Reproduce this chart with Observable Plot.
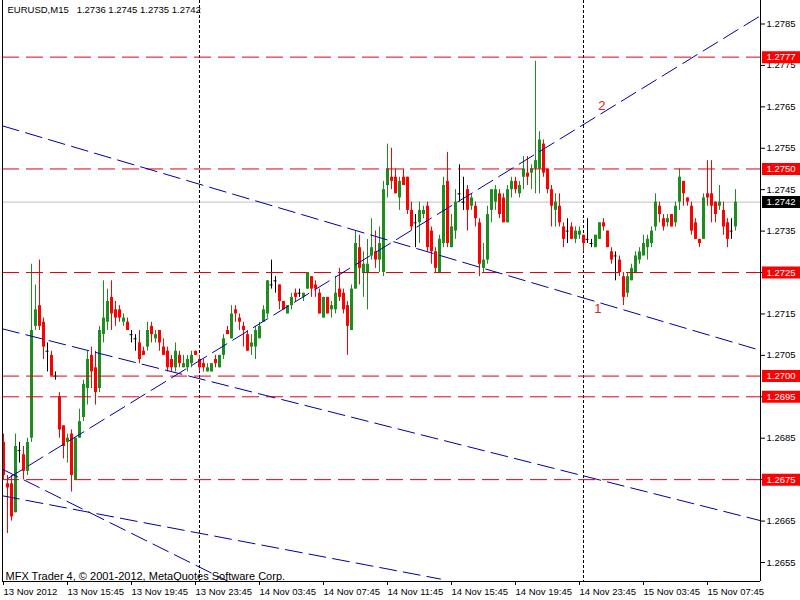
<!DOCTYPE html>
<html><head><meta charset="utf-8">
<script src="https://cdn.jsdelivr.net/npm/d3@7"></script>
<script src="https://cdn.jsdelivr.net/npm/@observablehq/plot@0.6"></script>
<style>html,body{margin:0;padding:0;background:#fff;}</style>
</head><body><div id="chart"></div>
<script>
// EURUSD M15, 15-minute bars starting 13 Nov 2012 11:45 (bar index 0)
const OPEN = [
1.2684,1.2674,1.2674,1.2667,1.2682,1.2681,1.2677,1.2685,1.2712,1.2717,
1.2713,1.2706,1.2705,1.2700,1.2695,1.2688,1.2684,1.2686,1.2675,1.2685,
1.2690,1.2697,1.2705,1.2702,1.2697,1.2710,1.2713,1.2719,1.2716,1.2716,
1.2713,1.2713,1.2710,1.2709,1.2708,1.2706,1.2707,1.2712,1.2709,1.2711,
1.2707,1.2706,1.2704,1.2702,1.2705,1.2702,1.2702,1.2703,1.2706,1.2704,
1.2703,1.2701,1.2701,1.2704,1.2702,1.2705,1.2711,1.2709,1.2716,1.2714,
1.2712,1.2710,1.2707,1.2707,1.2709,1.2713,1.2715,1.2722,1.2723,1.2722,
1.2718,1.2715,1.2717,1.2720,1.2720,1.2719,1.2721,1.2724,1.2722,1.2720,
1.2714,1.2719,1.2716,1.2716,1.2721,1.2720,1.2717,1.2711,1.2721,1.2731,
1.2725,1.2725,1.2729,1.2730,1.2728,1.2725,1.2746,1.2748,1.2748,1.2743,
1.2748,1.2748,1.2740,1.2737,1.2737,1.2739,1.2741,1.2735,1.2730,1.2725,
1.2732,1.2747,1.2731,1.2735,1.2744,1.2742,1.2745,1.2741,1.2741,1.2737,
1.2726,1.2728,1.2740,1.2742,1.2744,1.2743,1.2737,1.2745,1.2747,1.2744,
1.2748,1.2749,1.2749,1.2750,1.2750,1.2756,1.2750,1.2745,1.2740,1.2741,
1.2736,1.2735,1.2736,1.2733,1.2734,1.2734,1.2733,1.2732,1.2731,1.2733,
1.2737,1.2735,1.2730,1.2729,1.2728,1.2724,1.2720,1.2723,1.2725,1.2728,
1.2729,1.2731,1.2732,1.2736,1.2741,1.2738,1.2737,1.2739,1.2737,1.2742,
1.2747,1.2743,1.2741,1.2737,1.2733,1.2733,1.2744,1.2744,1.2742,1.2741,
1.2740,1.2737,1.2735,1.2736];
const HIGH = [
1.2686,1.2676,1.2676,1.2686,1.2684,1.2683,1.2685,1.2727,1.2722,1.2728,
1.2714,1.2708,1.2706,1.2701,1.2696,1.2688,1.2686,1.2687,1.2685,1.2692,
1.2699,1.2706,1.2707,1.2706,1.2712,1.2723,1.2721,1.2723,1.2718,1.2717,
1.2715,1.2714,1.2711,1.2710,1.2711,1.2707,1.2713,1.2713,1.2711,1.2711,
1.2709,1.2707,1.2705,1.2708,1.2706,1.2705,1.2705,1.2706,1.2706,1.2705,
1.2704,1.2703,1.2703,1.2705,1.2705,1.2710,1.2712,1.2717,1.2717,1.2715,
1.2713,1.2711,1.2710,1.2712,1.2713,1.2717,1.2723,1.2728,1.2724,1.2722,
1.2718,1.2717,1.2720,1.2721,1.2721,1.2720,1.2725,1.2724,1.2723,1.2721,
1.2719,1.2719,1.2718,1.2724,1.2726,1.2721,1.2718,1.2722,1.2735,1.2734,
1.2730,1.2733,1.2738,1.2735,1.2736,1.2747,1.2756,1.2755,1.2750,1.2748,
1.2750,1.2748,1.2742,1.2739,1.2742,1.2741,1.2742,1.2736,1.2731,1.2734,
1.2748,1.2754,1.2739,1.2745,1.2751,1.2748,1.2746,1.2744,1.2742,1.2738,
1.2732,1.2741,1.2745,1.2746,1.2745,1.2744,1.2746,1.2748,1.2748,1.2747,
1.2753,1.2753,1.2751,1.2776,1.2759,1.2757,1.2750,1.2746,1.2744,1.2744,
1.2737,1.2738,1.2737,1.2736,1.2736,1.2734,1.2738,1.2733,1.2734,1.2737,
1.2738,1.2735,1.2731,1.2730,1.2729,1.2725,1.2725,1.2727,1.2730,1.2731,
1.2734,1.2734,1.2736,1.2744,1.2742,1.2739,1.2739,1.2739,1.2742,1.2750,
1.2747,1.2743,1.2742,1.2738,1.2733,1.2744,1.2752,1.2752,1.2742,1.2746,
1.2742,1.2738,1.2738,1.2745];
const LOW = [
1.2675,1.2662,1.2665,1.2667,1.2679,1.2675,1.2676,1.2684,1.2711,1.2711,
1.2704,1.2701,1.2700,1.2699,1.2685,1.2680,1.2679,1.2672,1.2675,1.2685,
1.2689,1.2693,1.2697,1.2693,1.2696,1.2708,1.2711,1.2711,1.2712,1.2713,
1.2712,1.2711,1.2708,1.2706,1.2703,1.2705,1.2706,1.2708,1.2708,1.2706,
1.2705,1.2701,1.2701,1.2701,1.2702,1.2702,1.2701,1.2702,1.2705,1.2701,
1.2701,1.2701,1.2701,1.2702,1.2702,1.2704,1.2710,1.2709,1.2713,1.2711,
1.2707,1.2706,1.2705,1.2704,1.2709,1.2713,1.2714,1.2721,1.2720,1.2716,
1.2716,1.2715,1.2716,1.2718,1.2719,1.2718,1.2721,1.2719,1.2719,1.2715,
1.2714,1.2715,1.2714,1.2715,1.2718,1.2715,1.2705,1.2711,1.2721,1.2722,
1.2719,1.2716,1.2728,1.2726,1.2725,1.2724,1.2743,1.2745,1.2744,1.2740,
1.2746,1.2739,1.2735,1.2731,1.2732,1.2738,1.2730,1.2727,1.2725,1.2725,
1.2731,1.2731,1.2731,1.2733,1.2742,1.2740,1.2735,1.2740,1.2736,1.2724,
1.2725,1.2727,1.2737,1.2740,1.2738,1.2737,1.2737,1.2743,1.2744,1.2743,
1.2745,1.2746,1.2745,1.2744,1.2744,1.2748,1.2744,1.2736,1.2736,1.2736,
1.2731,1.2732,1.2733,1.2732,1.2733,1.2730,1.2732,1.2731,1.2731,1.2733,
1.2735,1.2731,1.2727,1.2723,1.2724,1.2717,1.2719,1.2723,1.2725,1.2727,
1.2729,1.2728,1.2731,1.2735,1.2737,1.2735,1.2736,1.2736,1.2736,1.2740,
1.2741,1.2741,1.2734,1.2733,1.2731,1.2733,1.2741,1.2737,1.2737,1.2740,
1.2734,1.2731,1.2733,1.2735];
const CLOSE = [
1.2676,1.2673,1.2666,1.2683,1.2682,1.2677,1.2684,1.2711,1.2716,1.2712,
1.2707,1.2706,1.2700,1.2700,1.2687,1.2683,1.2685,1.2676,1.2685,1.2689,
1.2698,1.2704,1.2701,1.2696,1.2711,1.2714,1.2718,1.2715,1.2714,1.2714,
1.2714,1.2711,1.2710,1.2709,1.2704,1.2705,1.2711,1.2710,1.2710,1.2708,
1.2705,1.2702,1.2702,1.2706,1.2703,1.2703,1.2704,1.2705,1.2705,1.2702,
1.2702,1.2702,1.2703,1.2703,1.2705,1.2709,1.2710,1.2715,1.2715,1.2713,
1.2711,1.2706,1.2708,1.2711,1.2712,1.2716,1.2723,1.2722,1.2723,1.2718,
1.2716,1.2717,1.2719,1.2719,1.2720,1.2720,1.2725,1.2721,1.2721,1.2715,
1.2719,1.2715,1.2717,1.2720,1.2719,1.2716,1.2712,1.2721,1.2732,1.2726,
1.2727,1.2727,1.2731,1.2728,1.2732,1.2745,1.2750,1.2747,1.2744,1.2747,
1.2746,1.2740,1.2736,1.2737,1.2740,1.2740,1.2731,1.2730,1.2726,1.2733,
1.2746,1.2732,1.2736,1.2742,1.2744,1.2742,1.2740,1.2743,1.2738,1.2727,
1.2728,1.2739,1.2745,1.2745,1.2739,1.2737,1.2745,1.2747,1.2745,1.2746,
1.2750,1.2748,1.2750,1.2752,1.2757,1.2749,1.2745,1.2741,1.2742,1.2737,
1.2733,1.2735,1.2733,1.2735,1.2735,1.2732,1.2733,1.2732,1.2734,1.2737,
1.2736,1.2731,1.2728,1.2729,1.2725,1.2719,1.2724,1.2726,1.2729,1.2730,
1.2732,1.2733,1.2735,1.2742,1.2739,1.2736,1.2738,1.2736,1.2741,1.2748,
1.2744,1.2742,1.2735,1.2733,1.2732,1.2743,1.2743,1.2741,1.2739,1.2742,
1.2736,1.2733,1.2735,1.2742];

const X_TICK_BARS = [0,16,32,48,64,80,96,112,128,144,160,176];
const X_TICK_LABELS = ["13 Nov 2012","13 Nov 15:45","13 Nov 19:45","13 Nov 23:45","14 Nov 03:45","14 Nov 07:45","14 Nov 11:45","14 Nov 15:45","14 Nov 19:45","14 Nov 23:45","15 Nov 03:45","15 Nov 07:45"];
const Y_TICKS = [1.2655,1.2665,1.2675,1.2685,1.2695,1.2705,1.2715,1.2725,1.2735,1.2745,1.2755,1.2765,1.2775,1.2785];
const LEVELS = [1.2777,1.2750,1.2725,1.2700,1.2695,1.2675];
const LAST_PRICE = 1.2742;
const SEPARATOR_BARS = [49,145];
// trend lines: [bar, price] end points
const TREND_1 = [[-0.25,1.27604],[189.25,1.27062]];
const TREND_2 = [[1.125,1.26753],[189.25,1.27870]];
const TREND_3 = [[-0.25,1.27114],[189.25,1.26651]];
const TREND_4 = [[-0.25,1.26775],[56.25,1.26504]];
const TREND_5 = [[-0.25,1.26711],[109.25,1.26510]];
const TREND_LABELS = [{text:"2",bar:149.6,price:1.27653},{text:"1",bar:148.6,price:1.27163}];
const TITLE = "EURUSD,M15\u00a0\u00a0 1.2736 1.2745 1.2735 1.2742";
const COPYRIGHT = "MFX Trader 4, \u00a9 2001-2012, MetaQuotes Software Corp.";

const X_MIN = -0.25, X_MAX = 189.25;
const Y_MIN = 1.265041, Y_MAX = 1.279067;
const UP = "#1f8c1f", DOWN = "#ff0000", DOJI = "#000000";
const LEVEL_COLOR = "#e00010", TREND_COLOR = "#0000a0";

const bars = d3.range(OPEN.length).map(i => ({i, o: OPEN[i], h: HIGH[i], l: LOW[i], c: CLOSE[i]}));
const col = d => d.c > d.o ? UP : d.c < d.o ? DOWN : DOJI;
const trends = [TREND_1, TREND_2, TREND_3, TREND_4, TREND_5].flatMap((t, k) => t.map(([bar, price]) => ({id: k, bar, price})));

const chart = Plot.plot({
  width: 800, height: 600,
  marginLeft: 2, marginRight: 40, marginTop: 0, marginBottom: 19,
  style: {fontFamily: "'Liberation Sans', Arial, sans-serif", fontSize: "9.5px", background: "#fff", color: "#000"},
  x: {type: "linear", domain: [X_MIN, X_MAX]},
  y: {type: "linear", domain: [Y_MIN, Y_MAX]},
  marks: [
    Plot.ruleY([LAST_PRICE], {y: d => d, stroke: "#c0c0c0"}),
    Plot.ruleX(SEPARATOR_BARS, {x: d => d, stroke: "#000", strokeDasharray: "3,2"}),
    Plot.ruleX(bars, {x: "i", y1: "l", y2: "h", stroke: col}),
    Plot.ruleX(bars.filter(d => d.o !== d.c), {x: "i", y1: "o", y2: "c", stroke: col, strokeWidth: 3}),
    Plot.ruleY(bars.filter(d => d.o === d.c), {y: "o", x1: d => d.i - 0.375, x2: d => d.i + 0.375, stroke: DOJI}),
    Plot.ruleY(LEVELS, {y: d => d, stroke: LEVEL_COLOR, strokeDasharray: "17,7"}),
    Plot.line(trends, {x: "bar", y: "price", z: "id", stroke: TREND_COLOR, strokeWidth: 1, strokeDasharray: "17,7"}),
    Plot.text(TREND_LABELS, {x: "bar", y: "price", text: "text", fill: "#e02020", fontSize: 13}),
    Plot.ruleX([X_MIN, X_MAX], {x: d => d, stroke: "#000"}),
    Plot.ruleY([Y_MIN], {y: d => d, stroke: "#000"}),
    Plot.axisY({anchor: "right", ticks: Y_TICKS, tickSize: 4, tickPadding: 2, tickFormat: d => d.toFixed(4), label: null}),
    Plot.axisX({anchor: "bottom", ticks: X_TICK_BARS, tickSize: 4, tickPadding: 3, textAnchor: "start", tickFormat: d => X_TICK_LABELS[X_TICK_BARS.indexOf(d)], label: null}),
    Plot.ruleY(LEVELS, {y: d => d, x1: X_MAX + 0.5, x2: X_MAX + 10, stroke: "#ff0000", strokeWidth: 12}),
    Plot.text(LEVELS, {y: d => d, x: X_MAX, dx: 6, text: d => d.toFixed(4), fill: "#fff", textAnchor: "start"}),
    Plot.ruleY([LAST_PRICE], {y: d => d, x1: X_MAX + 0.5, x2: X_MAX + 10, stroke: "#000", strokeWidth: 12}),
    Plot.text([LAST_PRICE], {y: d => d, x: X_MAX, dx: 6, text: d => d.toFixed(4), fill: "#fff", textAnchor: "start"}),
    Plot.text([TITLE], {frameAnchor: "top-left", dx: 5, dy: 6, text: d => d, textAnchor: "start", lineAnchor: "top", fill: "#000"}),
    Plot.text([COPYRIGHT], {frameAnchor: "bottom-left", dx: 3, dy: -2, text: d => d, textAnchor: "start", lineAnchor: "bottom", fill: "#000", fontSize: 11})
  ]
});
document.getElementById("chart").appendChild(chart);
</script>
</body></html>
